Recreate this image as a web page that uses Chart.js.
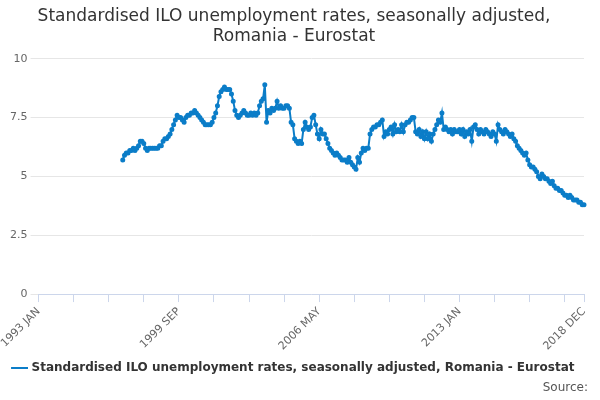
<!DOCTYPE html>
<html>
<head>
<meta charset="utf-8">
<script src="https://cdn.jsdelivr.net/npm/chart.js@4"></script>
<style>
  body { margin: 0; background: #fff; font-family: "DejaVu Sans", sans-serif; }
  #wrap { position: relative; width: 600px; height: 400px; }
  #source { position: absolute; right: 12px; bottom: 6px; font-size: 12px; color: #555; }
</style>
</head>
<body>
<div id="wrap">
  <canvas id="c" width="600" height="400"></canvas>
  <div id="source">Source:</div>
</div>
<script>
// ── Data ───────────────────────────────────────────────────────────────────
const MONTHS = ['JAN','FEB','MAR','APR','MAY','JUN','JUL','AUG','SEP','OCT','NOV','DEC'];
const FIRST_YEAR = 1993;
const LAST_YEAR  = 2018;
const DATA_START_YEAR = 1997;

// monthly rates, one row per year from 1997
const rates = [
  [5.7,5.9,6.0,6.0,6.1,6.1,6.2,6.1,6.2,6.3,6.5,6.5],
  [6.4,6.2,6.1,6.2,6.2,6.2,6.2,6.2,6.2,6.3,6.3,6.5],
  [6.6,6.6,6.7,6.8,7.0,7.2,7.4,7.6,7.5,7.5,7.4,7.3],
  [7.5,7.6,7.6,7.7,7.7,7.8,7.7,7.6,7.5,7.4,7.3,7.2],
  [7.2,7.2,7.2,7.3,7.5,7.7,8.0,8.4,8.6,8.7,8.8,8.7],
  [8.7,8.7,8.5,8.2,7.8,7.6,7.5,7.6,7.7,7.8,7.7,7.6],
  [7.6,7.7,7.6,7.7,7.6,7.7,8.0,8.2,8.3,8.9,7.3,7.8],
  [7.7,7.9,7.8,7.9,8.2,7.9,8.0,7.9,7.9,8.0,8.0,7.9],
  [7.3,7.2,6.6,6.5,6.4,6.5,6.4,7.0,7.3,7.1,7.0,7.1],
  [7.5,7.6,7.2,6.8,6.6,7.0,6.8,6.8,6.6,6.4,6.2,6.1],
  [6.0,5.9,6.0,5.9,5.8,5.7,5.7,5.7,5.6,5.8,5.6,5.5],
  [5.4,5.3,5.8,5.6,6.0,6.2,6.1,6.2,6.2,6.8,7.0,7.1],
  [7.1,7.2,7.2,7.3,7.4,6.7,6.9,6.8,7.0,7.1,6.8,7.2],
  [6.9,7.0,6.9,7.2,6.9,7.2,7.3,7.3,7.4,7.5,7.5,6.9],
  [6.8,7.0,6.7,6.9,6.6,6.9,6.6,6.8,6.5,6.8,7.0,7.2],
  [7.4,7.3,7.7,7.0,7.1,7.0,6.9,7.0,6.8,7.0,6.9,6.9],
  [7.0,6.8,7.0,6.7,6.9,6.8,7.0,6.5,7.1,7.2,7.0,6.8],
  [7.0,6.9,6.8,7.0,6.9,6.8,6.7,6.9,6.8,6.5,7.2,7.0],
  [6.9,6.8,7.0,6.9,6.8,6.7,6.8,6.6,6.5,6.3,6.2,6.1],
  [6.0,5.9,6.0,5.7,5.5,5.4,5.4,5.3,5.2,5.0,4.9,5.1],
  [5.0,4.9,4.9,4.8,4.7,4.8,4.6,4.5,4.5,4.4,4.4,4.3],
  [4.2,4.2,4.1,4.2,4.1,4.0,4.0,4.0,3.9,3.9,3.8,3.8],
];

const SHOWN_LABELS = ['1993 JAN','1999 SEP','2006 MAY','2013 JAN','2018 DEC'];
const yTicks = [0, 2.5, 5, 7.5, 10];

// ── Build series ───────────────────────────────────────────────────────────
const labels = [];
for (let y = FIRST_YEAR; y <= LAST_YEAR; y++) MONTHS.forEach(m => labels.push(`${y} ${m}`));
const padding = (DATA_START_YEAR - FIRST_YEAR) * 12;
const values = Array(padding).fill(null).concat(rates.flat());

const COLOR = '#0b7dc8';

new Chart(document.getElementById('c'), {
  type: 'line',
  data: {
    labels,
    datasets: [{
      label: 'Standardised ILO unemployment rates, seasonally adjusted, Romania - Eurostat',
      data: values,
      borderColor: COLOR,
      backgroundColor: COLOR,
      borderWidth: 2,
      pointRadius: 1.5,
      pointHoverRadius: 3,
      tension: 0,
    }],
  },
  options: {
    responsive: false,
    animation: false,
    layout: { padding: { left: 4, right: 16, bottom: 16 } },
    plugins: {
      title: {
        display: true,
        text: ['Standardised ILO unemployment rates, seasonally adjusted,', 'Romania - Eurostat'],
        font: { size: 17, weight: 'normal', family: 'DejaVu Sans' },
        color: '#333',
        padding: { top: 6, bottom: 12 },
      },
      legend: {
        position: 'bottom',
        labels: {
          usePointStyle: true, pointStyle: 'line', boxWidth: 14,
          font: { size: 12, weight: 'bold', family: 'DejaVu Sans' }, color: '#333', padding: 6,
        },
      },
    },
    scales: {
      x: {
        ticks: {
          autoSkip: false, maxRotation: 45, minRotation: 45,
          font: { size: 11, family: 'DejaVu Sans' }, color: '#666',
          callback: (v, i) => SHOWN_LABELS.includes(labels[i]) ? labels[i] : (i % 20 === 0 ? '' : null),
        },
        grid: { drawOnChartArea: false, tickLength: 8, color: '#ccd6eb' },
        border: { color: '#ccd6eb' },
      },
      y: {
        min: 0, max: 10,
        afterBuildTicks: ax => { ax.ticks = yTicks.map(v => ({ value: v })); },
        ticks: { font: { size: 11, family: 'DejaVu Sans' }, color: '#666' },
        grid: { color: '#e6e6e6' },
        border: { display: false },
      },
    },
  },
});
</script>
</body>
</html>
